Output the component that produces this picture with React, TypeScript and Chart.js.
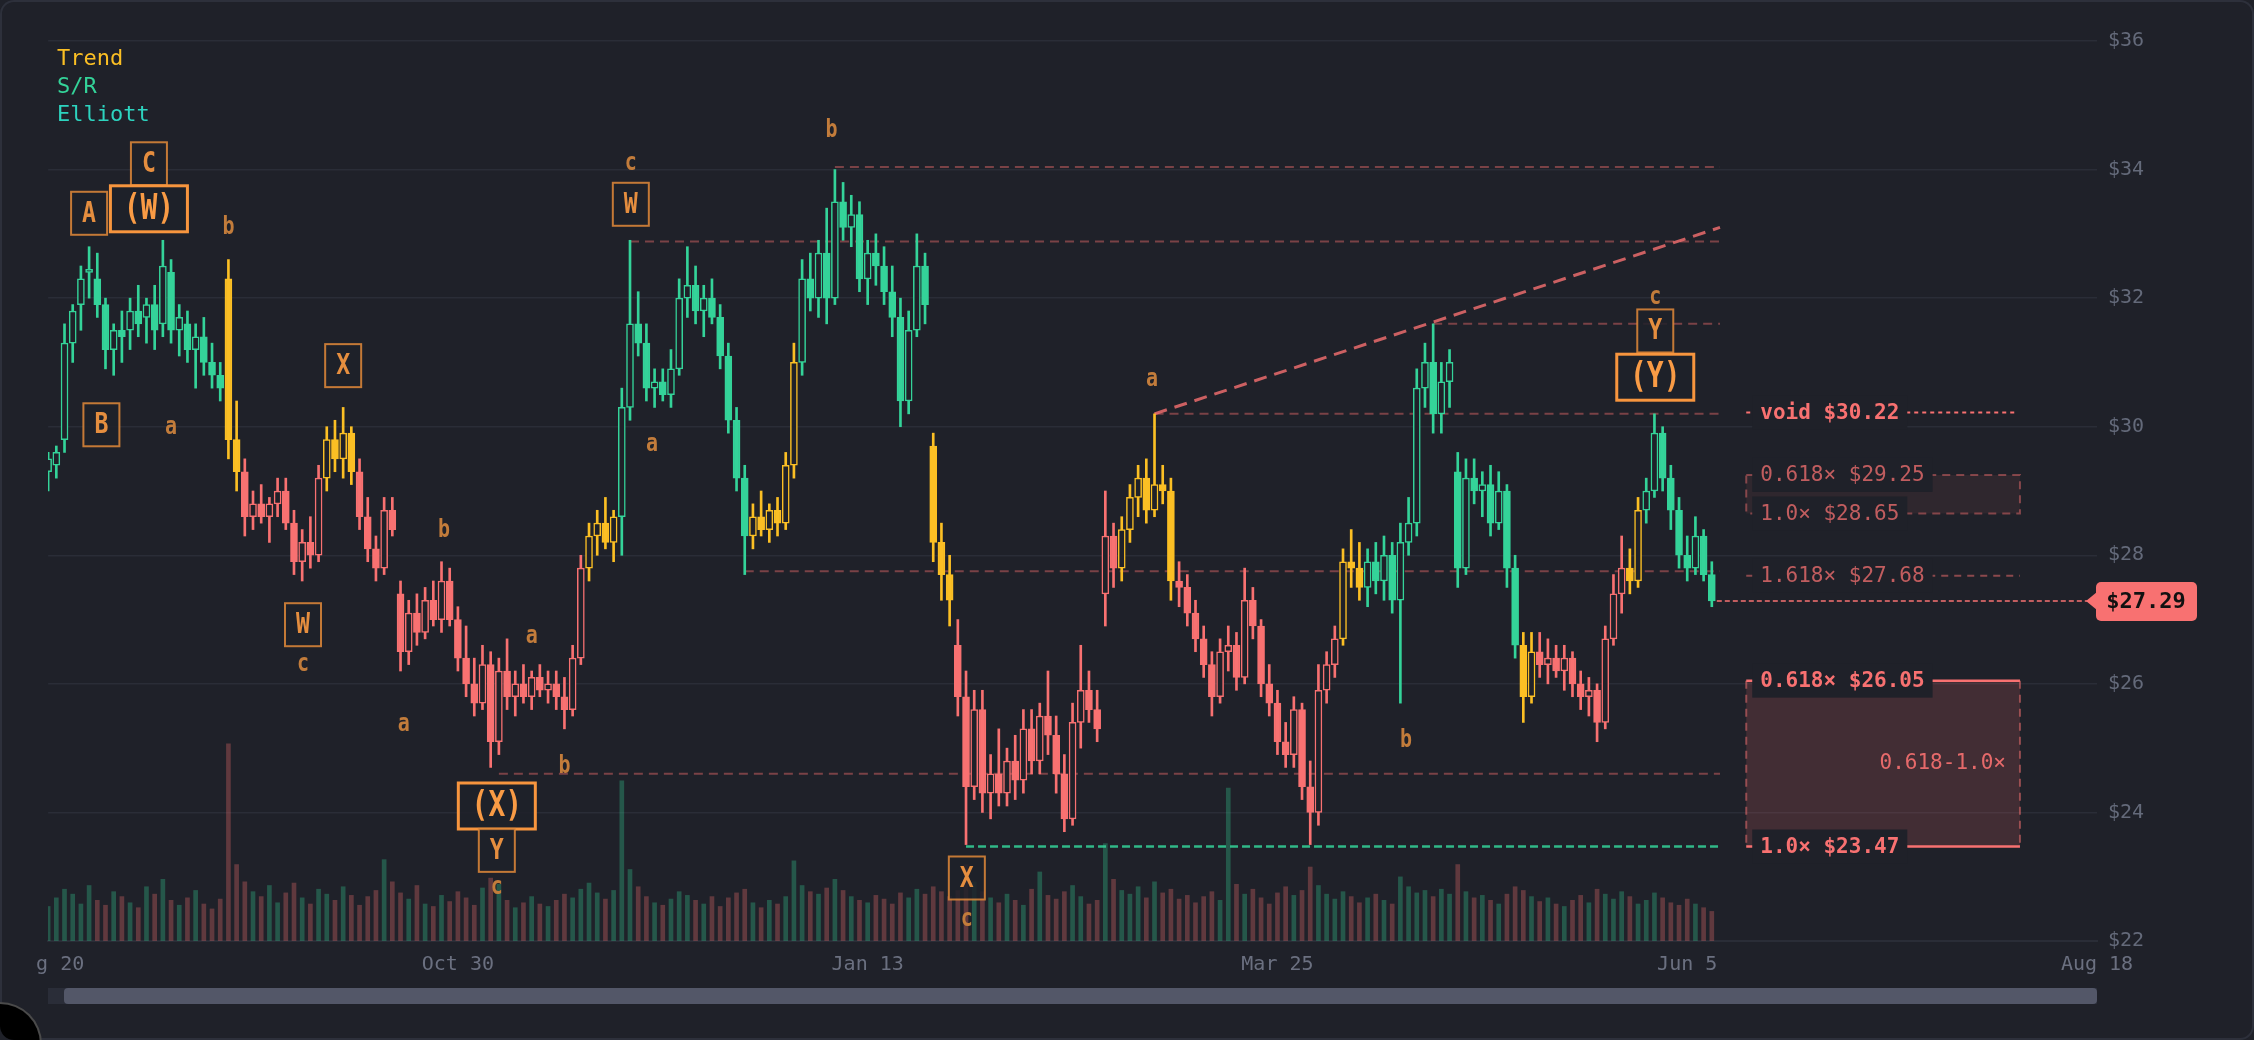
import { useEffect, useRef } from 'react';
import { Chart, registerables } from 'chart.js';

Chart.register(...registerables);

// ---------- data ----------
const tickLabels = ['Aug 20', 'Oct 30', 'Jan 13', 'Mar 25', 'Jun 5', 'Aug 18'];

const opens = [
  29.3, 29.4, 29.8, 31.3, 31.9, 32.4, 32.3, 31.9, 31.2, 31.5,
  31.5, 31.8, 31.7, 31.9, 31.6, 32.4, 31.5, 31.6, 31.2, 31.4,
  31.0, 30.8, 32.3, 29.8, 29.3, 28.6, 28.8, 28.6, 28.8, 29.0,
  28.5, 27.9, 28.2, 28.0, 29.2, 29.8, 29.5, 29.9, 29.3, 28.6,
  28.1, 27.8, 28.7, 27.4, 26.5, 27.1, 26.8, 27.3, 27.0, 27.6,
  27.0, 26.4, 26.0, 25.7, 26.3, 25.1, 26.2, 25.8, 26.0, 25.8,
  26.1, 25.9, 26.0, 25.8, 25.6, 26.4, 27.8, 28.3, 28.5, 28.2,
  28.6, 30.3, 31.6, 31.3, 30.6, 30.7, 30.5, 30.9, 32.0, 32.2,
  31.8, 32.0, 31.7, 31.1, 30.1, 29.2, 28.3, 28.6, 28.4, 28.7,
  28.5, 29.4, 31.0, 32.3, 32.0, 32.7, 32.0, 33.5, 33.1, 33.3,
  32.3, 32.7, 32.5, 32.1, 31.7, 30.4, 31.5, 32.5, 29.7, 28.2,
  27.7, 26.6, 25.8, 24.4, 25.6, 24.3, 24.6, 24.3, 24.8, 24.5,
  25.3, 24.8, 25.5, 25.2, 24.6, 23.9, 25.4, 25.9, 25.6, 27.4,
  28.3, 27.8, 28.4, 28.9, 29.2, 28.7, 29.1, 29.0, 27.6, 27.5,
  27.1, 26.7, 26.3, 25.8, 26.5, 26.6, 26.1, 27.3, 26.9, 26.0,
  25.7, 25.1, 24.9, 25.6, 24.4, 24.0, 25.9, 26.3, 26.7, 27.9,
  27.8, 27.5, 27.9, 27.6, 28.0, 27.3, 28.2, 28.5, 30.6, 31.0,
  30.2, 30.7, 29.3, 27.8, 29.2, 29.0, 29.1, 28.5, 29.0, 27.8,
  26.6, 25.8, 26.5, 26.3, 26.4, 26.2, 26.4, 26.0, 25.8, 25.9,
  25.4, 26.7, 27.4, 27.8, 27.6, 28.7, 29.0, 29.9, 29.2, 28.7,
  28.0, 27.8, 28.3, 27.7,
];
const highs = [
  29.6, 29.7, 31.6, 31.9, 32.5, 32.8, 32.7, 32.0, 31.6, 31.8,
  32.0, 32.2, 32.0, 32.2, 32.9, 32.6, 31.9, 31.8, 31.6, 31.7,
  31.3, 31.0, 32.6, 30.4, 29.5, 29.0, 29.1, 28.9, 29.2, 29.2,
  28.7, 28.4, 28.6, 29.4, 30.0, 30.1, 30.3, 30.0, 29.5, 28.9,
  28.3, 28.9, 28.9, 27.6, 27.3, 27.4, 27.5, 27.6, 27.9, 27.8,
  27.2, 26.9, 26.4, 26.6, 26.5, 26.4, 26.7, 26.2, 26.3, 26.2,
  26.3, 26.2, 26.2, 26.1, 26.6, 28.0, 28.5, 28.7, 28.9, 28.7,
  30.6, 32.9, 32.1, 31.6, 30.9, 30.9, 31.2, 32.3, 32.8, 32.5,
  32.2, 32.3, 31.9, 31.3, 30.3, 29.4, 28.8, 29.0, 28.8, 28.9,
  29.6, 31.3, 32.6, 32.7, 32.9, 33.4, 34.0, 33.8, 33.6, 33.5,
  32.9, 33.0, 32.8, 32.5, 32.0, 31.8, 33.0, 32.7, 29.9, 28.5,
  28.0, 27.0, 26.2, 25.9, 25.9, 24.9, 25.3, 25.0, 25.2, 25.6,
  25.6, 25.7, 26.2, 25.5, 24.9, 25.7, 26.6, 26.2, 25.9, 29.0,
  28.5, 28.6, 29.1, 29.4, 29.5, 30.2, 29.4, 29.2, 27.9, 27.7,
  27.3, 26.9, 26.5, 26.7, 26.9, 26.8, 27.8, 27.5, 27.0, 26.3,
  25.9, 25.4, 25.8, 25.7, 24.8, 26.3, 26.5, 26.9, 28.1, 28.4,
  28.2, 28.1, 28.2, 28.3, 28.2, 28.5, 28.9, 30.9, 31.3, 31.6,
  31.0, 31.2, 29.6, 29.5, 29.5, 29.3, 29.4, 29.3, 29.1, 28.0,
  26.8, 26.8, 26.8, 26.7, 26.6, 26.6, 26.5, 26.2, 26.1, 26.0,
  26.9, 27.7, 28.3, 28.1, 28.9, 29.2, 30.2, 30.0, 29.4, 28.9,
  28.3, 28.6, 28.4, 27.9,
];
const lows = [
  29.0, 29.2, 29.6, 31.0, 31.5, 32.0, 31.7, 30.9, 30.8, 31.0,
  31.2, 31.4, 31.3, 31.2, 31.4, 31.3, 31.1, 31.0, 30.6, 30.8,
  30.6, 30.4, 29.5, 29.0, 28.3, 28.4, 28.5, 28.2, 28.6, 28.4,
  27.7, 27.6, 27.8, 27.9, 29.0, 29.3, 29.2, 29.1, 28.4, 27.9,
  27.6, 27.7, 28.3, 26.2, 26.3, 26.6, 26.7, 26.9, 26.8, 26.9,
  26.2, 25.8, 25.5, 25.6, 24.7, 24.9, 25.6, 25.5, 25.7, 25.6,
  25.8, 25.7, 25.6, 25.3, 25.5, 26.3, 27.6, 28.0, 28.1, 27.9,
  28.0, 30.1, 31.1, 30.4, 30.3, 30.4, 30.3, 30.8, 31.7, 31.6,
  31.4, 31.6, 30.9, 29.9, 29.0, 27.7, 28.1, 28.3, 28.2, 28.3,
  28.4, 29.2, 30.8, 31.8, 31.7, 31.6, 31.9, 32.9, 32.8, 32.1,
  31.9, 32.2, 31.9, 31.4, 30.0, 30.2, 31.4, 31.6, 27.9, 27.3,
  26.9, 25.5, 23.5, 24.2, 24.0, 23.9, 24.1, 24.1, 24.2, 24.3,
  24.6, 24.6, 24.9, 24.3, 23.7, 23.8, 25.0, 25.4, 25.1, 26.9,
  27.5, 27.6, 28.2, 28.6, 28.5, 28.6, 28.8, 27.3, 27.2, 26.9,
  26.5, 26.1, 25.5, 25.7, 26.2, 25.9, 26.0, 26.7, 25.8, 25.5,
  24.9, 24.7, 24.7, 24.2, 23.5, 23.8, 25.7, 26.1, 26.6, 27.5,
  27.3, 27.2, 27.4, 27.3, 27.1, 25.7, 28.0, 28.3, 30.3, 29.9,
  29.9, 30.3, 27.5, 27.7, 28.8, 28.6, 28.3, 28.4, 27.5, 26.4,
  25.4, 25.7, 26.1, 26.0, 26.1, 25.9, 25.8, 25.6, 25.5, 25.1,
  25.3, 26.6, 27.1, 27.4, 27.5, 28.5, 28.9, 29.0, 28.4, 27.8,
  27.6, 27.7, 27.6, 27.2,
];
const closes = [
  29.5, 29.6, 31.3, 31.8, 32.3, 32.45, 31.9, 31.2, 31.5, 31.4,
  31.8, 31.6, 31.9, 31.5, 32.5, 31.5, 31.7, 31.2, 31.4, 31.0,
  30.8, 30.6, 29.8, 29.3, 28.6, 28.8, 28.6, 28.8, 29.0, 28.5,
  27.9, 28.2, 28.0, 29.2, 29.8, 29.5, 29.9, 29.3, 28.6, 28.1,
  27.8, 28.7, 28.4, 26.5, 27.1, 26.8, 27.3, 27.0, 27.6, 27.0,
  26.4, 26.0, 25.7, 26.3, 25.1, 26.2, 25.8, 26.0, 25.8, 26.1,
  25.9, 26.0, 25.8, 25.6, 26.4, 27.8, 28.3, 28.5, 28.2, 28.6,
  30.3, 31.6, 31.3, 30.6, 30.7, 30.5, 30.9, 32.0, 32.2, 31.8,
  32.0, 31.7, 31.1, 30.1, 29.2, 28.3, 28.6, 28.4, 28.7, 28.5,
  29.4, 31.0, 32.3, 32.0, 32.7, 32.0, 33.5, 33.1, 33.3, 32.3,
  32.7, 32.5, 32.1, 31.7, 30.4, 31.5, 32.5, 31.9, 28.2, 27.7,
  27.3, 25.8, 24.4, 25.6, 24.3, 24.6, 24.3, 24.8, 24.5, 25.3,
  24.8, 25.5, 25.2, 24.6, 23.9, 25.4, 25.9, 25.6, 25.3, 28.3,
  27.8, 28.4, 28.9, 29.2, 28.7, 29.1, 29.0, 27.6, 27.5, 27.1,
  26.7, 26.3, 25.8, 26.5, 26.6, 26.1, 27.3, 26.9, 26.0, 25.7,
  25.1, 24.9, 25.6, 24.4, 24.0, 25.9, 26.3, 26.7, 27.9, 27.8,
  27.5, 27.9, 27.6, 28.0, 27.3, 28.2, 28.5, 30.6, 31.0, 30.2,
  30.7, 31.0, 27.8, 29.2, 29.0, 29.1, 28.5, 29.0, 27.8, 26.6,
  25.8, 26.5, 26.3, 26.4, 26.2, 26.4, 26.0, 25.8, 25.9, 25.4,
  26.7, 27.4, 27.8, 27.6, 28.7, 29.0, 29.9, 29.2, 28.7, 28.0,
  27.8, 28.3, 27.7, 27.29,
];
const volumes = [
  0.28, 0.35, 0.42, 0.38, 0.30, 0.45, 0.33, 0.29, 0.40, 0.36,
  0.31, 0.27, 0.44, 0.38, 0.50, 0.33, 0.29, 0.35, 0.41, 0.30,
  0.26, 0.34, 1.60, 0.62, 0.48, 0.40, 0.36, 0.45, 0.31, 0.39,
  0.47, 0.35, 0.30, 0.42, 0.38, 0.33, 0.44, 0.37, 0.29, 0.36,
  0.41, 0.66, 0.48, 0.39, 0.34, 0.45, 0.30, 0.28, 0.37, 0.32,
  0.40, 0.35, 0.29, 0.43, 0.51, 0.46, 0.33, 0.27, 0.31, 0.36,
  0.30, 0.28, 0.33, 0.38, 0.35, 0.42, 0.47, 0.39, 0.34, 0.41,
  1.30, 0.58, 0.44, 0.36, 0.31, 0.29, 0.34, 0.40, 0.37, 0.33,
  0.30, 0.36, 0.28, 0.35, 0.39, 0.42, 0.31, 0.27, 0.33, 0.30,
  0.36, 0.65, 0.45, 0.40, 0.38, 0.43, 0.50, 0.41, 0.36, 0.33,
  0.31, 0.37, 0.34, 0.30, 0.39, 0.35, 0.42, 0.38, 0.44, 0.40,
  0.36, 0.41, 0.62, 0.48, 0.40, 0.35, 0.31, 0.38, 0.33, 0.29,
  0.42, 0.56, 0.37, 0.34, 0.40, 0.45, 0.36, 0.30, 0.33, 0.79,
  0.50, 0.41, 0.38, 0.44, 0.35, 0.48, 0.39, 0.42, 0.34, 0.37,
  0.31, 0.36, 0.40, 0.33, 1.24, 0.46, 0.38, 0.42, 0.35, 0.30,
  0.39, 0.44, 0.37, 0.41, 0.60, 0.45, 0.38, 0.34, 0.40, 0.36,
  0.31, 0.35, 0.38, 0.33, 0.30, 0.52, 0.44, 0.39, 0.41, 0.36,
  0.42, 0.38, 0.62, 0.40, 0.35, 0.37, 0.33, 0.30, 0.38, 0.44,
  0.41, 0.36, 0.32, 0.35, 0.30, 0.28, 0.33, 0.37, 0.31, 0.42,
  0.38, 0.34, 0.40, 0.36, 0.30, 0.33, 0.39, 0.35, 0.31, 0.29,
  0.34, 0.30, 0.27, 0.24,
];

// trend regime: segment end index + code (g = up, r = down, y = neutral)
const trendEnds = [21, 23, 33, 37, 65, 69, 85, 91, 107, 110, 130, 137, 157, 160, 179, 181, 192, 194, 203];
const trendCodes = ['g', 'y', 'r', 'y', 'r', 'y', 'g', 'y', 'g', 'y', 'r', 'y', 'r', 'y', 'g', 'y', 'r', 'y', 'g'];

// support / resistance lines
const srPrices = [34.04, 32.88, 31.6, 30.2, 27.75, 24.6];
const srStarts = [96, 71, 169, 135, 85, 55];
const srEnd = 204;
const supportPrice = 23.47;
const supportStart = 112;
const trendlineX = [135, 204];
const trendlineY = [30.2, 33.1];

// elliott wave labels
const waveTexts = ['A', 'C', '(W)', 'B', 'b', 'a', 'X', 'W', 'c', 'b', 'a', 'a', 'b', '(X)', 'Y', 'c', 'c', 'W', 'a', 'b', 'a', 'X', 'c', 'b', 'c', 'Y', '(Y)'];
const waveIdx = [5.0, 12.3, 12.3, 6.5, 22.0, 15.0, 36.0, 31.1, 31.1, 48.3, 43.4, 59.0, 63.0, 54.75, 54.75, 54.75, 71.1, 71.1, 73.7, 95.6, 134.7, 112.1, 112.1, 165.7, 196.1, 196.1, 196.1];
const wavePrices = [33.32, 34.09, 33.39, 30.03, 33.12, 30.0, 30.95, 26.92, 26.32, 28.4, 25.38, 26.76, 24.73, 24.1, 23.41, 22.85, 34.11, 33.46, 29.74, 34.62, 30.75, 22.98, 22.35, 25.13, 32.03, 31.49, 30.77];
const waveKinds = ['box', 'box', 'major', 'box', 'sub', 'sub', 'box', 'box', 'sub', 'sub', 'sub', 'sub', 'sub', 'major', 'box', 'sub', 'sub', 'box', 'sub', 'sub', 'sub', 'box', 'sub', 'sub', 'sub', 'box', 'major'];

// fibonacci projection zone
const fibRange = [207.2, 240.6];
const voidPrice = 30.22;
const zone1 = [29.25, 28.65];
const ext1618 = 27.68;
const zone2 = [26.05, 23.47];
const lastPrice = 27.29;

// ---------- style ----------
const BG = '#1f2129';
const RED = '#f87171';
const GREEN = '#34d399';
const AMBER = '#fbbf24';
const TEAL = '#2dd4bf';
const MONO = "'DejaVu Sans Mono', 'Liberation Mono', monospace";

const N = closes.length;
const idx = Array.from({ length: N }, (_, i) => i);

function trendColor(i: number) {
  let k = 0;
  while (k < trendEnds.length - 1 && i > trendEnds[k]) k++;
  const c = trendCodes[k];
  return c === 'g' ? GREEN : c === 'r' ? RED : AMBER;
}

const candleColors = idx.map((i) => trendColor(i));
const bodyFill = idx.map((i) => (closes[i] > opens[i] ? BG : candleColors[i]));
const volColors = idx.map((i) => (closes[i] >= opens[i] ? 'rgba(52,211,153,0.3)' : 'rgba(248,113,113,0.3)'));

function dashed(ctx: any, x1: number, y1: number, x2: number, y2: number, color: string, width: number, dash: number[]) {
  ctx.save();
  ctx.strokeStyle = color;
  ctx.lineWidth = width;
  ctx.setLineDash(dash);
  ctx.beginPath();
  ctx.moveTo(x1, y1);
  ctx.lineTo(x2, y2);
  ctx.stroke();
  ctx.restore();
}

function condensed(ctx: any, text: string, cx: number, cy: number, size: number, color: string) {
  ctx.save();
  ctx.translate(cx, cy);
  ctx.scale(0.8, 1);
  ctx.font = `bold ${size}px ${MONO}`;
  ctx.textAlign = 'center';
  ctx.textBaseline = 'middle';
  ctx.fillStyle = color;
  ctx.fillText(text, 0, 1);
  ctx.restore();
}

function fibLabel(ctx: any, text: string, x: number, yc: number, color: string, bold: boolean) {
  ctx.save();
  ctx.font = `${bold ? 'bold ' : ''}21px ${MONO}`;
  const w = ctx.measureText(text).width;
  ctx.fillStyle = BG;
  ctx.fillRect(x - 8, yc - 17, w + 16, 34);
  ctx.fillStyle = color;
  ctx.textAlign = 'left';
  ctx.textBaseline = 'middle';
  ctx.fillText(text, x, yc + 1);
  ctx.restore();
}

const overlayPlugin = {
  id: 'overlay',
  beforeDatasetsDraw(chart: any) {
    const { ctx, chartArea: a, scales } = chart;
    const x = scales.x;
    const y = scales.y;
    ctx.save();
    ctx.beginPath();
    ctx.rect(a.left, a.top, a.right - a.left, a.bottom - a.top);
    ctx.clip();
    srPrices.forEach((p, k) => {
      const py = y.getPixelForValue(p);
      dashed(ctx, x.getPixelForValue(srStarts[k]), py, x.getPixelForValue(srEnd), py, 'rgba(248,113,113,0.42)', 2, [9, 6]);
    });
    const sy = y.getPixelForValue(supportPrice);
    dashed(ctx, x.getPixelForValue(supportStart), sy, x.getPixelForValue(srEnd), sy, 'rgba(52,211,153,0.85)', 2.5, [8, 4]);
    dashed(
      ctx,
      x.getPixelForValue(trendlineX[0]), y.getPixelForValue(trendlineY[0]),
      x.getPixelForValue(trendlineX[1]), y.getPixelForValue(trendlineY[1]),
      'rgba(248,113,113,0.8)', 3, [13, 8]
    );
    ctx.restore();
  },
  afterDatasetsDraw(chart: any) {
    const { ctx, chartArea: a, scales } = chart;
    const x = scales.x;
    const y = scales.y;
    ctx.save();
    ctx.beginPath();
    ctx.rect(a.left, a.top, a.right - a.left, a.bottom - a.top);
    ctx.clip();

    // last price line
    const ly = y.getPixelForValue(lastPrice);
    dashed(ctx, x.getPixelForValue(N - 1) + 5, ly, a.right, ly, RED, 1.5, [5, 3]);

    const x1 = x.getPixelForValue(fibRange[0]);
    const x2 = x.getPixelForValue(fibRange[1]);
    const tx = x1 + 14;
    const muted = 'rgba(248,113,113,0.75)';

    // void level
    const vy = y.getPixelForValue(voidPrice);
    dashed(ctx, x1, vy, x2 - 5, vy, RED, 2, [4, 4]);
    fibLabel(ctx, `void $${voidPrice.toFixed(2)}`, tx, vy, RED, true);

    // zone 1
    const z1t = y.getPixelForValue(zone1[0]);
    const z1b = y.getPixelForValue(zone1[1]);
    ctx.fillStyle = 'rgba(248,113,113,0.08)';
    ctx.fillRect(x1, z1t, x2 - x1, z1b - z1t);
    ctx.save();
    ctx.strokeStyle = 'rgba(248,113,113,0.45)';
    ctx.lineWidth = 2;
    ctx.setLineDash([8, 6]);
    ctx.strokeRect(x1, z1t, x2 - x1, z1b - z1t);
    ctx.restore();
    fibLabel(ctx, `0.618× $${zone1[0].toFixed(2)}`, tx, z1t, muted, false);
    fibLabel(ctx, `1.0× $${zone1[1].toFixed(2)}`, tx, z1b, muted, false);

    // 1.618 extension
    const ey = y.getPixelForValue(ext1618);
    dashed(ctx, x1, ey, x2, ey, 'rgba(248,113,113,0.5)', 2, [7, 6]);
    fibLabel(ctx, `1.618× $${ext1618.toFixed(2)}`, tx, ey, muted, false);

    // zone 2
    const z2t = y.getPixelForValue(zone2[0]);
    const z2b = y.getPixelForValue(zone2[1]);
    ctx.fillStyle = 'rgba(248,113,113,0.16)';
    ctx.fillRect(x1, z2t, x2 - x1, z2b - z2t);
    dashed(ctx, x1, z2t, x1, z2b, 'rgba(248,113,113,0.5)', 2, [8, 6]);
    dashed(ctx, x2, z2t, x2, z2b, 'rgba(248,113,113,0.5)', 2, [8, 6]);
    dashed(ctx, x1, z2t, x2, z2t, RED, 2.5, []);
    dashed(ctx, x1, z2b, x2, z2b, RED, 2.5, []);
    fibLabel(ctx, `0.618× $${zone2[0].toFixed(2)}`, tx, z2t, RED, true);
    fibLabel(ctx, `1.0× $${zone2[1].toFixed(2)}`, tx, z2b, RED, true);
    ctx.save();
    ctx.font = `21px ${MONO}`;
    ctx.fillStyle = 'rgba(248,113,113,0.9)';
    ctx.textAlign = 'right';
    ctx.textBaseline = 'middle';
    ctx.fillText('0.618-1.0×', x2 - 14, (z2t + z2b) / 2);
    ctx.restore();

    // elliott wave labels
    waveTexts.forEach((t, k) => {
      const cx = x.getPixelForValue(waveIdx[k]);
      const cy = y.getPixelForValue(wavePrices[k]);
      const kind = waveKinds[k];
      if (kind === 'sub') {
        condensed(ctx, t, cx, cy, 25, '#c27c3b');
        return;
      }
      const major = kind === 'major';
      const w = major ? 77 : 36;
      const h = major ? 46 : 43;
      ctx.save();
      ctx.fillStyle = 'rgba(31,33,41,0.85)';
      ctx.fillRect(cx - w / 2, cy - h / 2, w, h);
      ctx.strokeStyle = major ? '#f7953e' : 'rgba(226,137,58,0.85)';
      ctx.lineWidth = major ? 3 : 2;
      ctx.strokeRect(cx - w / 2, cy - h / 2, w, h);
      ctx.restore();
      condensed(ctx, t, cx, cy, major ? 35 : 29, major ? '#f99b45' : '#e58e3f');
    });
    ctx.restore();
  },
  afterDraw(chart: any) {
    const { ctx, scales } = chart;
    const y = scales.y;

    // legend
    ctx.save();
    ctx.font = `22px ${MONO}`;
    ctx.textAlign = 'left';
    ctx.textBaseline = 'alphabetic';
    ctx.fillStyle = AMBER;
    ctx.fillText('Trend', 57, 65);
    ctx.fillStyle = GREEN;
    ctx.fillText('S/R', 57, 93);
    ctx.fillStyle = TEAL;
    ctx.fillText('Elliott', 57, 121);
    ctx.restore();

    // price badge
    const by = y.getPixelForValue(lastPrice);
    ctx.save();
    ctx.fillStyle = RED;
    ctx.beginPath();
    ctx.moveTo(2086, by);
    ctx.lineTo(2097, by - 9);
    ctx.lineTo(2097, by + 9);
    ctx.closePath();
    ctx.fill();
    ctx.beginPath();
    ctx.roundRect(2096, by - 19, 101, 39, 5);
    ctx.fill();
    ctx.fillStyle = '#111111';
    ctx.font = `bold 22px ${MONO}`;
    ctx.textAlign = 'center';
    ctx.textBaseline = 'middle';
    ctx.fillText(`$${lastPrice.toFixed(2)}`, 2146, by + 1);
    ctx.restore();

    // scrollbar
    ctx.save();
    ctx.fillStyle = '#2a2d38';
    ctx.fillRect(48, 988, 2049, 16);
    ctx.fillStyle = '#535768';
    ctx.beginPath();
    ctx.roundRect(64, 988, 2033, 16, 4);
    ctx.fill();
    // left edge clipping of the first date label
    ctx.fillStyle = BG;
    ctx.fillRect(3, 944, 34, 40);
    ctx.restore();
  },
};

export default function App() {
  const ref = useRef<HTMLCanvasElement>(null);
  useEffect(() => {
    document.body.style.margin = '0';
    document.body.style.background = BG;
    Chart.defaults.font.family = MONO;
    const chart = new Chart(ref.current as HTMLCanvasElement, {
      type: 'bar',
      data: {
        datasets: [
          {
            label: 'Bodies',
            data: idx.map((i) => ({ x: i, y: [opens[i], closes[i]] })) as any,
            backgroundColor: bodyFill,
            borderColor: candleColors,
            borderWidth: 1.5,
            borderSkipped: false,
            barThickness: 7,
            grouped: false,
            order: 1,
            yAxisID: 'y',
          } as any,
          {
            label: 'Wicks',
            data: idx.map((i) => ({ x: i, y: [lows[i], highs[i]] })) as any,
            backgroundColor: candleColors,
            borderWidth: 0,
            barThickness: 2,
            grouped: false,
            order: 2,
            yAxisID: 'y',
          } as any,
          {
            label: 'Volume',
            data: idx.map((i) => ({ x: i, y: volumes[i] })) as any,
            backgroundColor: volColors,
            borderWidth: 0,
            barThickness: 4,
            grouped: false,
            order: 3,
            yAxisID: 'yv',
          } as any,
        ],
      },
      options: {
        responsive: false,
        animation: false,
        events: [],
        layout: { padding: { left: 48, top: 41, right: 0, bottom: 0 } },
        plugins: { legend: { display: false }, tooltip: { enabled: false } },
        scales: {
          x: {
            type: 'linear',
            min: 0,
            max: 250,
            offset: false,
            grid: { display: false, drawTicks: false, offset: false },
            border: { display: true, color: '#2a2d37', width: 2 },
            ticks: {
              stepSize: 50,
              autoSkip: false,
              maxRotation: 0,
              padding: 12,
              color: '#6b7080',
              font: { size: 20, family: MONO },
              callback: (v: any) => tickLabels[Math.round(Number(v) / 50)] ?? '',
            },
            afterFit: (s: any) => {
              s.height = 99;
            },
          },
          y: {
            type: 'linear',
            position: 'right',
            min: 22,
            max: 36,
            grid: { color: '#2a2d37', lineWidth: 1.5, drawTicks: false },
            border: { display: false },
            ticks: {
              stepSize: 2,
              padding: 11,
              color: '#646a7a',
              font: { size: 20, family: MONO },
              callback: (v: any) => `$${v}`,
            },
            afterFit: (s: any) => {
              s.width = 157;
            },
          },
          yv: {
            type: 'linear',
            display: false,
            min: 0,
            max: 7.3,
          },
        },
      } as any,
      plugins: [overlayPlugin],
    });
    return () => chart.destroy();
  }, []);

  return (
    <div
      style={{
        position: 'fixed',
        left: 0,
        top: 0,
        width: 2254,
        height: 1040,
        background: BG,
        overflow: 'hidden',
        borderRadius: 14,
        boxShadow: 'inset 0 0 0 2px #2d303b',
      }}
    >
      <canvas ref={ref} width={2254} height={1040} style={{ position: 'absolute', left: 0, top: 0, width: 2254, height: 1040 }} />
      <div
        style={{
          position: 'absolute',
          left: -40,
          top: 1004,
          width: 80,
          height: 80,
          borderRadius: '50%',
          background: '#000',
          boxShadow: '0 0 0 2px #4a4a4a',
        }}
      />
    </div>
  );
}
